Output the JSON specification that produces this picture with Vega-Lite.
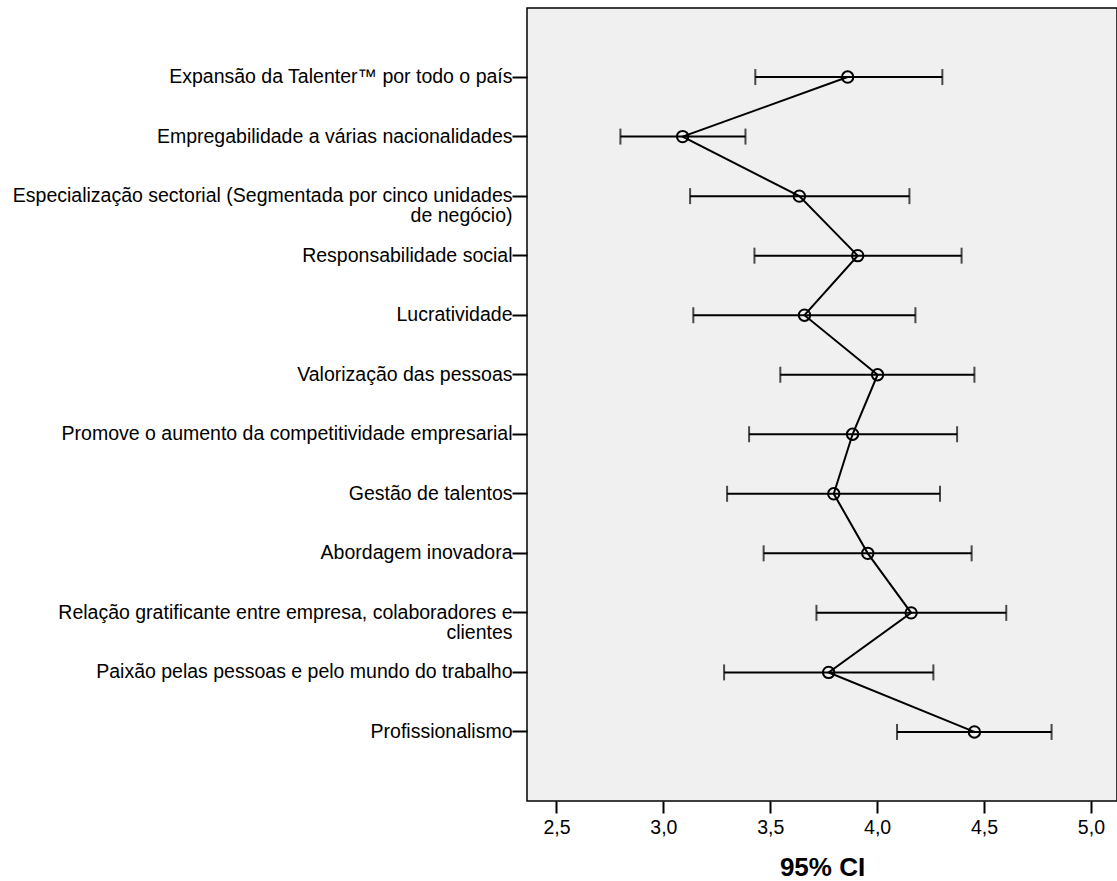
{
  "$schema": "https://vega.github.io/schema/vega-lite/v6.json",
  "width": 590,
  "height": 793,
  "autosize": {"type": "none"},
  "padding": {"left": 527, "top": 8, "right": 0, "bottom": 80},
  "background": "white",
  "config": {
    "view": {"fill": "#f0f0f0", "stroke": "black", "strokeWidth": 1.5},
    "font": "Liberation Sans"
  },
  "data": {
    "values": [
      {"ord": 1, "item": "Expansão da Talenter™ por todo o país", "mean": 3.862, "lo": 3.430, "hi": 4.305},
      {"ord": 2, "item": "Empregabilidade a várias nacionalidades", "mean": 3.090, "lo": 2.799, "hi": 3.384},
      {"ord": 3, "item": "Especialização sectorial (Segmentada por cinco unidades|de negócio)", "mean": 3.636, "lo": 3.125, "hi": 4.151},
      {"ord": 4, "item": "Responsabilidade social", "mean": 3.909, "lo": 3.426, "hi": 4.395},
      {"ord": 5, "item": "Lucratividade", "mean": 3.660, "lo": 3.140, "hi": 4.179},
      {"ord": 6, "item": "Valorização das pessoas", "mean": 4.002, "lo": 3.547, "hi": 4.455},
      {"ord": 7, "item": "Promove o aumento da competitividade empresarial", "mean": 3.885, "lo": 3.401, "hi": 4.374},
      {"ord": 8, "item": "Gestão de talentos", "mean": 3.797, "lo": 3.298, "hi": 4.294},
      {"ord": 9, "item": "Abordagem inovadora", "mean": 3.956, "lo": 3.469, "hi": 4.442},
      {"ord": 10, "item": "Relação gratificante entre empresa, colaboradores e|clientes", "mean": 4.159, "lo": 3.716, "hi": 4.604},
      {"ord": 11, "item": "Paixão pelas pessoas e pelo mundo do trabalho", "mean": 3.773, "lo": 3.284, "hi": 4.263},
      {"ord": 12, "item": "Profissionalismo", "mean": 4.455, "lo": 4.093, "hi": 4.816}
    ]
  },
  "encoding": {
    "y": {
      "field": "item",
      "type": "nominal",
      "sort": null,
      "scale": {"type": "band", "paddingInner": 0, "paddingOuter": 0.66},
      "axis": {
        "title": null,
        "domain": false,
        "ticks": true,
        "tickSize": 15,
        "tickWidth": 2,
        "tickColor": "black",
        "labelFontSize": 19.5,
        "labelColor": "black",
        "labelPadding": 0,
        "labelLimit": 800,
        "labelLineHeight": 20,
        "labelExpr": "split(datum.value, '|')"
      }
    }
  },
  "layer": [
    {
      "mark": {"type": "rule", "color": "black", "strokeWidth": 2},
      "encoding": {
        "x": {
          "field": "lo",
          "type": "quantitative",
          "scale": {"domain": [2.362, 5.122], "nice": false, "zero": false},
          "axis": {
            "values": [2.5, 3.0, 3.5, 4.0, 4.5, 5.0],
            "domain": false,
            "grid": false,
            "tickSize": 12,
            "tickWidth": 2,
            "tickColor": "black",
            "labelFontSize": 19.5,
            "labelColor": "black",
            "labelPadding": 5,
            "labelExpr": "replace(format(datum.value, '.1f'), '.', ',')",
            "title": "95% CI",
            "titleFontSize": 26,
            "titleFontWeight": "bold",
            "titleColor": "black",
            "titlePadding": 18
          }
        },
        "x2": {"field": "hi"}
      }
    },
    {
      "mark": {"type": "tick", "color": "black", "thickness": 2, "size": 16},
      "encoding": {"x": {"field": "lo", "type": "quantitative"}}
    },
    {
      "mark": {"type": "tick", "color": "black", "thickness": 2, "size": 16},
      "encoding": {"x": {"field": "hi", "type": "quantitative"}}
    },
    {
      "mark": {"type": "line", "color": "black", "strokeWidth": 2},
      "encoding": {
        "x": {"field": "mean", "type": "quantitative"},
        "order": {"field": "ord", "type": "quantitative"}
      }
    },
    {
      "mark": {"type": "point", "shape": "circle", "filled": false, "color": "black", "size": 130, "strokeWidth": 2, "opacity": 1},
      "encoding": {"x": {"field": "mean", "type": "quantitative"}}
    }
  ]
}
